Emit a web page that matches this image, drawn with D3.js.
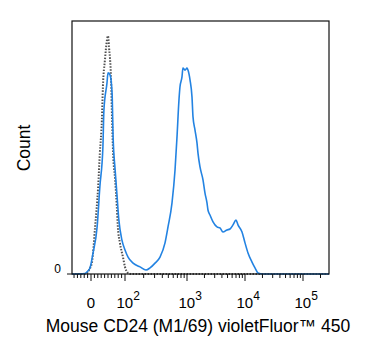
<!DOCTYPE html>
<html><head><meta charset="utf-8">
<script src="https://cdn.jsdelivr.net/npm/d3@7"></script>
<style>body{margin:0;background:#fff}svg{display:block;font-family:"Liberation Sans",Arial,sans-serif}</style>
</head><body><svg id="c" width="375" height="356"></svg>
<script>
// Stained sample (blue, solid): intensity vs count (% of max)
const stainedX = [-56,-18,-12,-3,6,18,26,35,38,47,50,56,62,65,71,76,82,91,100,112,135,175,218,253,305,367,442,494,573,641,690,742,770,830,860,928,1000,1040,1127,1219,1269,1374,1487,1547,1676,1887,2043,2212,2300,2490,2810,3290,3700,4170,4890,5510,6210,6990,7570,8880,10000,11270,13200,14870,16760,20430,280000];
const stainedY = [0,0.2,0.8,2.4,8.3,18.6,34.4,50.2,64.8,75.5,79.5,78.7,71.5,54.2,41.1,32.0,21.3,13.4,9.5,6.7,4.3,2.8,1.6,2.4,4.3,6.7,12.3,18.6,28.1,41.1,54.2,68.8,73.9,77.9,81.4,80.6,81.4,80.6,76.7,70.0,62.1,56.9,51.8,47.8,42.3,37.2,32.0,28.1,25.3,23.3,20.6,18.6,18.2,16.6,17.4,17.8,19.4,21.3,19.4,16.6,12.3,8.3,4.7,2.4,0.4,0,0];
// Isotype control (dotted)
const controlX = [-56,-15,-6,3,12,21,26,32,35,41,47,50,53,59,62,65,71,76,79,85,94,100,112,125,280000];
const controlY = [0,0,1.6,4.7,18.6,34.4,47.8,60.9,73.9,84.6,92.5,94.1,89.7,76.7,60.9,47.8,37.2,26.5,18.6,12.3,6.7,2.8,0.4,0,0];
const majorTicks = [0,1e2,1e3,1e4,1e5];
const majorExp = ["0","2","3","4","5"];
const minorTicks = [-50,-40,-30,-20,-10,10,20,30,40,50,60,70,80,90,200,300,400,500,600,700,800,900,2000,3000,4000,5000,6000,7000,8000,9000,20000,30000,40000,50000,60000,70000,80000,90000,200000];
const yTicks = [0];
const xTitle = "Mouse CD24 (M1/69) violetFluor\u2122 450";
const yTitle = "Count";

// biexponential-like transform: linear near zero, log above 100
const tf = v => Math.abs(v) <= 100 ? v/100 : Math.sign(v)*(1+Math.log10(Math.abs(v)/100));
const L=72, R=329, T=21, B=274;
const xs = d3.scaleLinear().domain([tf(-56),tf(0),tf(1e2),tf(1e3),tf(1e4),tf(1e5),tf(280000)]).range([L,91,125,187,245,303,R]);
const x = v => xs(tf(v));
const y = d3.scaleLinear().domain([0,100]).range([B,T]);

const svg = d3.select("#c");
const line = d3.line().x(d=>x(d[0])).y(d=>y(d[1])).curve(d3.curveMonotoneX);

svg.append("path").datum(controlX.map((v,i)=>[v,controlY[i]]))
  .attr("d",line).attr("fill","none").attr("stroke","#505050").attr("stroke-width",2).attr("stroke-dasharray","1.5,1.5");
svg.append("path").datum(stainedX.map((v,i)=>[v,stainedY[i]]))
  .attr("d",line).attr("fill","none").attr("stroke","#2383e2").attr("stroke-width",1.6);

// frame
svg.append("rect").attr("x",L).attr("y",T).attr("width",R-L).attr("height",B-T)
  .attr("fill","none").attr("stroke","#111").attr("stroke-width",1.2);

// x ticks
const g = svg.append("g");
minorTicks.forEach(v=>{
  g.append("line").attr("x1",x(v)).attr("x2",x(v)).attr("y1",B).attr("y2",B+4).attr("stroke","#111").attr("stroke-width",1);
});
majorTicks.forEach(v=>{
  g.append("line").attr("x1",x(v)).attr("x2",x(v)).attr("y1",B).attr("y2",B+7).attr("stroke","#111").attr("stroke-width",1);
});
majorTicks.forEach((v,i)=>{
  if(v===0){
    svg.append("text").attr("x",x(v)).attr("y",308).attr("text-anchor","middle").attr("font-size",15).text("0");
  } else {
    const t = svg.append("text").attr("x",x(v)-8.5).attr("y",308).attr("font-size",15);
    t.append("tspan").text("10");
    t.append("tspan").attr("dy",-8).attr("font-size",12).text(majorExp[i]);
  }
});
// y ticks
yTicks.forEach(v=>{
  svg.append("line").attr("x1",L-5).attr("x2",L).attr("y1",y(v)).attr("y2",y(v)).attr("stroke","#111");
  svg.append("text").attr("x",61).attr("y",y(v)-1).attr("text-anchor","end").attr("font-size",12).text(v);
});
svg.append("text").attr("x",198).attr("y",332).attr("text-anchor","middle").attr("font-size",17.5).text(xTitle);
svg.append("text").attr("transform","translate(30,148) rotate(-90)").attr("text-anchor","middle").attr("font-size",17.5).text(yTitle);
</script></body></html>
